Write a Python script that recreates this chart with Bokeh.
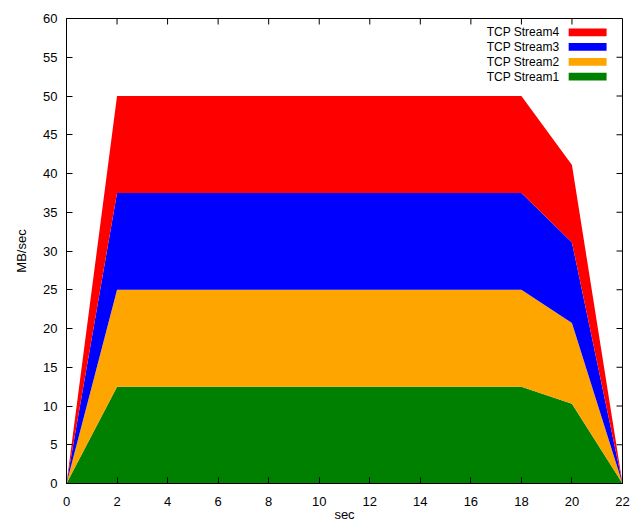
from bokeh.plotting import figure
from bokeh.models import ColumnDataSource, FixedTicker, Label, BoxAnnotation
from bokeh.embed import file_html
from bokeh.resources import INLINE

secs = [0, 2, 4, 6, 8, 10, 12, 14, 16, 18, 20, 22]
stream1 = [0, 12.5, 12.5, 12.5, 12.5, 12.5, 12.5, 12.5, 12.5, 12.5, 10.3, 0]
stream2 = [0, 12.5, 12.5, 12.5, 12.5, 12.5, 12.5, 12.5, 12.5, 12.5, 10.4, 0]
stream3 = [0, 12.5, 12.5, 12.5, 12.5, 12.5, 12.5, 12.5, 12.5, 12.5, 10.4, 0]
stream4 = [0, 12.5, 12.5, 12.5, 12.5, 12.5, 12.5, 12.5, 12.5, 12.5, 10.0, 0]
names = ["TCP Stream1", "TCP Stream2", "TCP Stream3", "TCP Stream4"]
colors = ["#008000", "#ffa500", "#0000ff", "#ff0000"]
x_ticks = list(range(0, 23, 2))
y_ticks = list(range(0, 61, 5))
X_MAX, Y_MAX = 22, 60

FONT = "Liberation Sans"
W, H = 641, 524
BL, BR, BT, BB = 66, 19, 18, 41

source = ColumnDataSource(dict(x=secs, s1=stream1, s2=stream2, s3=stream3, s4=stream4))

p = figure(width=W, height=H, x_range=(0, X_MAX), y_range=(0, Y_MAX),
           output_backend="svg", toolbar_location=None,
           min_border_left=BL, min_border_right=BR, min_border_top=BT, min_border_bottom=BB,
           x_axis_label="sec", y_axis_label="MB/sec")

p.varea_stack(stackers=["s1", "s2", "s3", "s4"], x="x", color=colors, source=source)

p.xgrid.visible = False
p.ygrid.visible = False
p.outline_line_color = "black"
p.outline_line_width = 1
p.background_fill_color = "white"
p.border_fill_color = "white"

def style_axis(ax, ticks):
    ax.ticker = FixedTicker(ticks=ticks)
    ax.major_tick_in = 6
    ax.major_tick_out = 0
    ax.minor_tick_line_color = None
    ax.axis_line_color = "black"
    ax.major_tick_line_color = "black"
    ax.major_label_text_font = FONT
    ax.major_label_text_font_size = "13px"
    ax.major_label_text_color = "black"
    ax.axis_label_text_font = FONT
    ax.axis_label_text_font_size = "13px"
    ax.axis_label_text_font_style = "normal"
    ax.axis_label_text_color = "black"

style_axis(p.xaxis[0], x_ticks)
p.xaxis[0].major_label_standoff = 13
p.xaxis[0].axis_label_standoff = -2
style_axis(p.yaxis[0], y_ticks)
p.yaxis[0].major_label_standoff = 9
p.yaxis[0].axis_label_standoff = 11

# mirrored inward ticks on the top and right borders (gnuplot style)
frame_w = W - BL - BR
frame_h = H - BT - BB
tick_dx = 6 * X_MAX / frame_w
tick_dy = 6 * Y_MAX / frame_h
p.segment(x0=x_ticks, x1=x_ticks, y0=[Y_MAX] * len(x_ticks), y1=[Y_MAX - tick_dy] * len(x_ticks),
          line_color="black", line_width=1)
p.segment(x0=[X_MAX] * len(y_ticks), x1=[X_MAX - tick_dx] * len(y_ticks), y0=y_ticks, y1=y_ticks,
          line_color="black", line_width=1)

# gnuplot-style legend: text right-aligned, colour sample on the right
rows_y = [58.2, 56.35, 54.4, 52.5]
for i, (nm, col) in enumerate(zip(names[::-1], colors[::-1])):
    yc = rows_y[i]
    p.add_layout(Label(x=19.5, y=yc, text=nm, text_align="right", text_baseline="middle",
                       text_font=FONT, text_font_size="12px", text_color="black"))
    p.add_layout(BoxAnnotation(left=19.87, right=21.37, bottom=yc - 0.5, top=yc + 0.5,
                               fill_color=col, fill_alpha=1.0, line_color=None))

open("out.html", "w").write(file_html(p, INLINE))
